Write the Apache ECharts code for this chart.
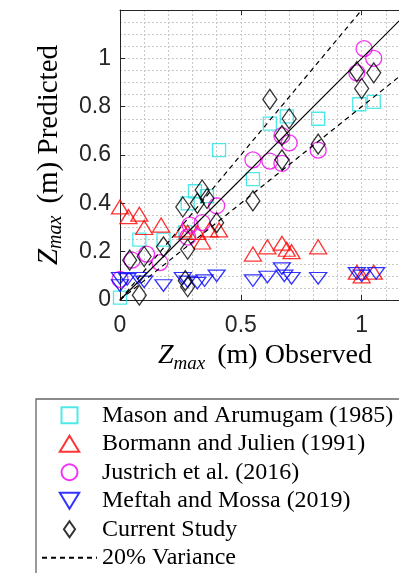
<!DOCTYPE html>
<html>
<head>
<meta charset="utf-8">
<script src="https://cdn.jsdelivr.net/npm/echarts@6/dist/echarts.min.js"></script>
<style>
html,body{margin:0;padding:0;background:#fff;}
#chart{width:399px;height:573px;}
</style>
</head>
<body>
<div id="chart"></div>
<script>
// ---- data (observed, predicted) ----
const mason = [[0.00,0.01],[0.08,0.25],[0.18,0.25],[0.27,0.28],[0.28,0.40],[0.31,0.45],[0.36,0.43],[0.41,0.62],[0.55,0.50],[0.62,0.73],[0.69,0.76],[0.82,0.75],[0.99,0.81],[1.05,0.82]];
const bormann = [[0.00,0.385],[0.035,0.345],[0.08,0.355],[0.10,0.30],[0.17,0.31],[0.26,0.29],[0.28,0.28],[0.32,0.28],[0.34,0.24],[0.37,0.29],[0.41,0.29],[0.55,0.19],[0.61,0.22],[0.67,0.235],[0.69,0.21],[0.71,0.20],[0.82,0.22],[0.98,0.115],[1.00,0.10],[1.05,0.115]];
const justrich = [[0.00,0.085],[0.05,0.165],[0.11,0.19],[0.165,0.155],[0.28,0.26],[0.29,0.31],[0.34,0.32],[0.40,0.39],[0.55,0.58],[0.62,0.575],[0.67,0.565],[0.67,0.68],[0.70,0.65],[0.82,0.62],[0.98,0.94],[1.01,1.04],[1.05,1.00]];
const meftah = [[0.00,0.09],[0.00,0.06],[0.03,0.085],[0.075,0.09],[0.10,0.075],[0.18,0.06],[0.26,0.09],[0.28,0.075],[0.32,0.07],[0.35,0.08],[0.40,0.10],[0.55,0.08],[0.61,0.095],[0.67,0.13],[0.68,0.10],[0.71,0.09],[0.82,0.09],[0.98,0.11],[1.00,0.10],[1.06,0.11]];
const current = [[0.04,0.165],[0.08,0.02],[0.10,0.18],[0.18,0.22],[0.26,0.385],[0.27,0.08],[0.28,0.21],[0.28,0.055],[0.32,0.40],[0.34,0.455],[0.36,0.42],[0.40,0.32],[0.55,0.41],[0.62,0.83],[0.67,0.58],[0.67,0.68],[0.70,0.75],[0.82,0.645],[0.98,0.945],[1.00,0.875],[1.05,0.94]];
const lineOneToOne = [[0,0],[1.2,1.2]];
const linePlus20 = [[0,0],[1,1.2]];
const lineMinus20 = [[0,0],[1.2,0.96]];
const xTicks = [0, 0.5, 1];
const yTicks = [0, 0.2, 0.4, 0.6, 0.8, 1];
const names = ['Mason and Arumugam (1985)','Bormann and Julien (1991)','Justrich et al. (2016)','Meftah and Mossa (2019)','Current Study','20% Variance'];

const serif = 'Liberation Serif';
const sans = 'Liberation Sans';
const axisColor = '#262626';
const gridLine = {show:true, lineStyle:{color:'#c8c8c8', type:[2,2], width:1}};
const icons = {
  rect:'path://M0,0H13V13H0Z',
  tri:'path://M8.5,0L17,14L0,14Z',
  circ:'path://M8,0A8,8 0 1 1 8,16A8,8 0 1 1 8,0Z',
  inv:'path://M0,0L17,0L8.5,14Z',
  dia:'path://M7,0L14,10L7,20L0,10Z'
};

function titleRich(size){
  return {
    zi:{fontFamily:serif, fontStyle:'italic', fontSize:size, lineHeight:34, verticalAlign:'middle', color:'#000'},
    sub:{fontFamily:serif, fontStyle:'italic', fontSize:Math.round(size*0.68), lineHeight:18, verticalAlign:'bottom', color:'#000'},
    sp:{fontSize:size, lineHeight:34, width:12},
    rm:{fontFamily:serif, fontSize:size, lineHeight:34, verticalAlign:'middle', color:'#000'}
  };
}

function scatter(name, data, symbol, size, color){
  return {
    name, type:'scatter', data, symbol, symbolSize:size, symbolKeepAspect:true,
    xAxisIndex:0, yAxisIndex:0,
    itemStyle:{color:'rgba(0,0,0,0)', borderColor:color, borderWidth:1.3},
    emphasis:{disabled:true}, z:3
  };
}

const chart = echarts.init(document.getElementById('chart'));
chart.setOption({
  animation:false,
  backgroundColor:'#fff',
  grid:{left:120, top:10, width:290, height:290, outerBoundsMode:'none', containLabel:false},
  xAxis:[
    {type:'value', min:0, max:1.2, interval:0.5, position:'bottom',
     axisLine:{show:true, onZero:false, lineStyle:{color:axisColor, width:1}},
     axisTick:{show:true, inside:true, length:5, lineStyle:{color:axisColor}},
     axisLabel:{fontFamily:sans, fontSize:23, color:axisColor, margin:14,
       formatter:v => xTicks.some(t=>Math.abs(t-v)<1e-9) ? String(v) : ''},
     splitLine:{show:false},
     name:'{zi|Z}{sub|max}{sp| }{rm|(m) Observed}', nameLocation:'middle', nameGap:39,
     nameTextStyle:{rich:titleRich(28)}},
    {type:'value', min:0, max:1.2, interval:0.1, position:'bottom', gridIndex:0,
     axisLine:{show:false}, axisTick:{show:false}, axisLabel:{show:false}, splitLine:gridLine},
    {type:'value', min:0, max:1.2, interval:0.5, position:'top', gridIndex:0,
     axisLine:{show:true, onZero:false, lineStyle:{color:axisColor, width:1}},
     axisTick:{show:true, inside:true, length:5, lineStyle:{color:axisColor}},
     axisLabel:{show:false}, splitLine:{show:false}}
  ],
  yAxis:[
    {type:'value', min:0, max:1.2, interval:0.2,
     axisLine:{show:true, onZero:false, lineStyle:{color:axisColor, width:1}},
     axisTick:{show:true, inside:true, length:5, lineStyle:{color:axisColor}},
     axisLabel:{fontFamily:sans, fontSize:23, color:axisColor, margin:9,
       formatter:v => yTicks.some(t=>Math.abs(t-v)<1e-9) ? String(+v.toFixed(1)) : ''},
     splitLine:{show:false},
     name:'{zi|Z}{sub|max}{sp| }{rm|(m) Predicted}', nameLocation:'middle', nameGap:54, nameRotate:90,
     nameTextStyle:{rich:titleRich(29)}},
    {type:'value', min:0, max:1.2, interval:0.05, gridIndex:0,
     axisLine:{show:false}, axisTick:{show:false}, axisLabel:{show:false}, splitLine:gridLine}
  ],
  legend:{
    data:[
      {name:names[0], icon:icons.rect},
      {name:names[1], icon:icons.tri},
      {name:names[2], icon:icons.circ},
      {name:names[3], icon:icons.inv},
      {name:names[4], icon:icons.dia},
      {name:names[5], itemStyle:{opacity:0}}
    ],
    orient:'vertical', left:36, top:399, height:400,
    itemWidth:55, itemHeight:16, itemGap:0, symbolKeepAspect:true,
    padding:[2,8,8,5],
    backgroundColor:'#fff', borderColor:'#666', borderWidth:1.3, borderRadius:0,
    textStyle:{fontFamily:serif, fontSize:24, color:'#000', lineHeight:28.5},
    selectedMode:false
  },
  series:[
    scatter(names[0], mason, 'rect', [13,13], '#22e3e3'),
    scatter(names[1], bormann, 'triangle', [17,14], '#ff0000'),
    scatter(names[2], justrich, 'circle', [16,16], '#f000f0'),
    scatter(names[3], meftah, icons.inv, [17,14], '#0000ff'),
    scatter(names[4], current, 'diamond', [14,20], '#000000'),
    {name:names[5], type:'line', data:linePlus20, symbol:'none', xAxisIndex:0, yAxisIndex:0,
     lineStyle:{color:'#000', width:1.2, type:[5,4]}, z:4, silent:true},
    {name:names[5], type:'line', data:lineMinus20, symbol:'none', xAxisIndex:0, yAxisIndex:0,
     lineStyle:{color:'#000', width:1.2, type:[5,4]}, z:4, silent:true},
    {name:'1:1 line', type:'line', data:lineOneToOne, symbol:'none', xAxisIndex:0, yAxisIndex:0,
     lineStyle:{color:'#000', width:1.2}, z:4, silent:true}
  ]
});
</script>
</body>
</html>
